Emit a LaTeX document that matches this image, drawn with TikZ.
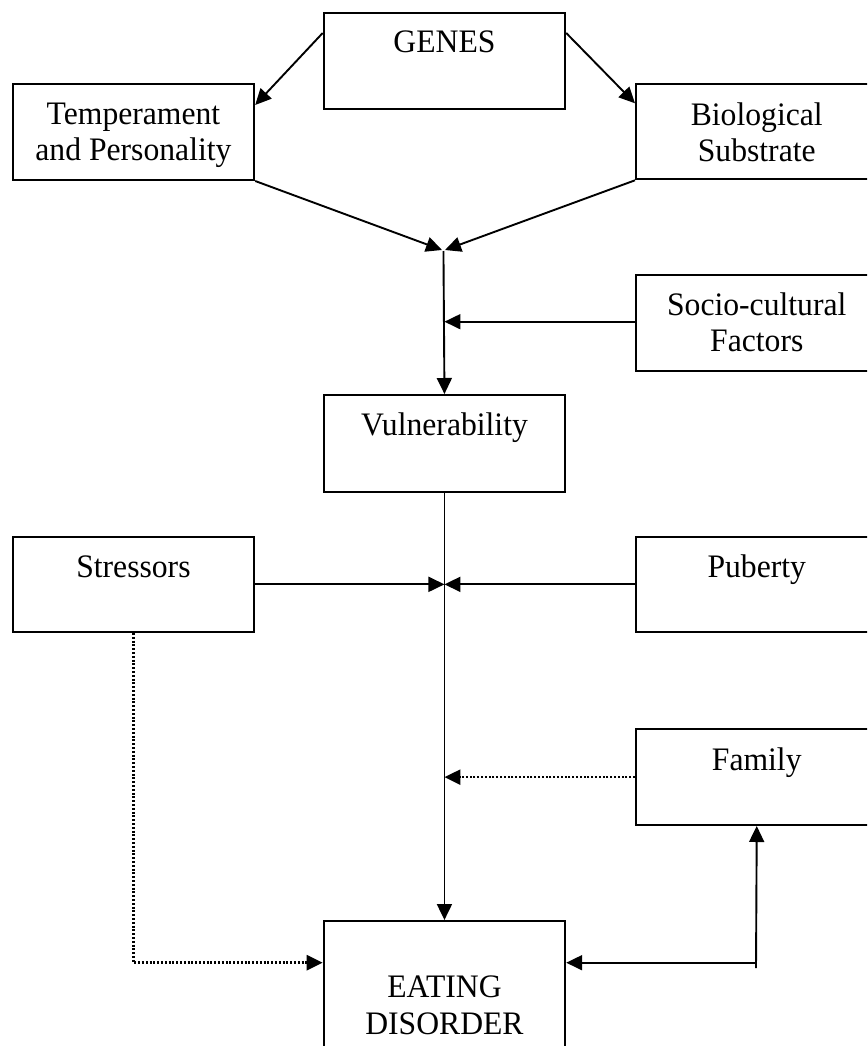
\documentclass[tikz,border=0pt]{standalone}
\usepackage{fontspec}
\setmainfont{Liberation Serif}[FakeStretch=0.965]
\usetikzlibrary{arrows.meta,calc}
\newcommand\bxcontent[3]{\parbox[c][#1pt][t]{241.5pt}{\centering\fontsize{32.8}{36.5}\selectfont\rule{0pt}{#2pt}#3}}
\begin{document}
\begin{tikzpicture}[x=1pt,y=-1pt,
  box/.style={draw, line width=2pt, inner sep=0pt, anchor=north west},
  conn/.style={line width=1.9pt, -{Triangle[length=16pt,width=15pt]}},
  dotconn/.style={conn, line width=2.6pt, dash pattern=on 2pt off 1.8pt}]
\useasboundingbox (0,0) rectangle (867,1046);
\clip (0,0) rectangle (867,1046);
\node[box] (genes) at (322.7,11.7) {\bxcontent{96}{40.3}{GENES}};
\node[box] (temp) at (11.7,83.3) {\bxcontent{95.7}{40}{Temperament\\and Personality}};
\node[box] (bio) at (635,83.3) {\bxcontent{95}{41}{Biological\\Substrate}};
\node[box] (soc) at (635,274) {\bxcontent{96}{40.3}{Socio-cultural\\Factors}};
\node[box] (vul) at (322.7,394) {\bxcontent{96.7}{40}{Vulnerability}};
\node[box] (str) at (11.7,535.7) {\bxcontent{95.3}{40.3}{Stressors}};
\node[box] (pub) at (635,535.7) {\bxcontent{95.3}{40.3}{Puberty}};
\node[box] (fam) at (635,728.3) {\bxcontent{95.7}{41}{Family}};
\node[box] (eat) at (322.7,920) {\bxcontent{160}{76.7}{EATING\\DISORDER}};
\coordinate (jL) at (442,250);
\coordinate (jR) at (445,250);
\coordinate (top1) at (443.45,251);
\coordinate (eL) at ([yshift=-42.7pt]eat.north west);
\coordinate (eR) at ([yshift=-42.7pt]eat.north east);
\coordinate (fb) at (756,968);
\draw[conn] ([yshift=-21.3pt]genes.north west) -- ([yshift=-21.7pt]temp.north east);
\draw[conn] ([yshift=-21.3pt]genes.north east) -- ([yshift=-20pt]bio.north west);
\draw[conn] (temp.south east) -- (jL);
\draw[conn] (bio.south west) -- (jR);
\draw[conn] (top1) -- (vul.north);
\draw[conn] ([yshift=1.3pt]soc.west) -- ([yshift=1.3pt]soc.west -| vul.north);
\draw[conn] (vul.south) -- (eat.north);
\draw[conn] (str.east) -- (str.east -| vul.south);
\draw[conn] (pub.west) -- (pub.west -| vul.south);
\draw[dotconn] (fam.west) -- (fam.west -| vul.south);
\draw[dotconn] (str.south) |- (eL);
\draw[conn] (fb) -- (fam.south);
\draw[conn] (fam.south |- eR) -- (eR);
\end{tikzpicture}
\end{document}
